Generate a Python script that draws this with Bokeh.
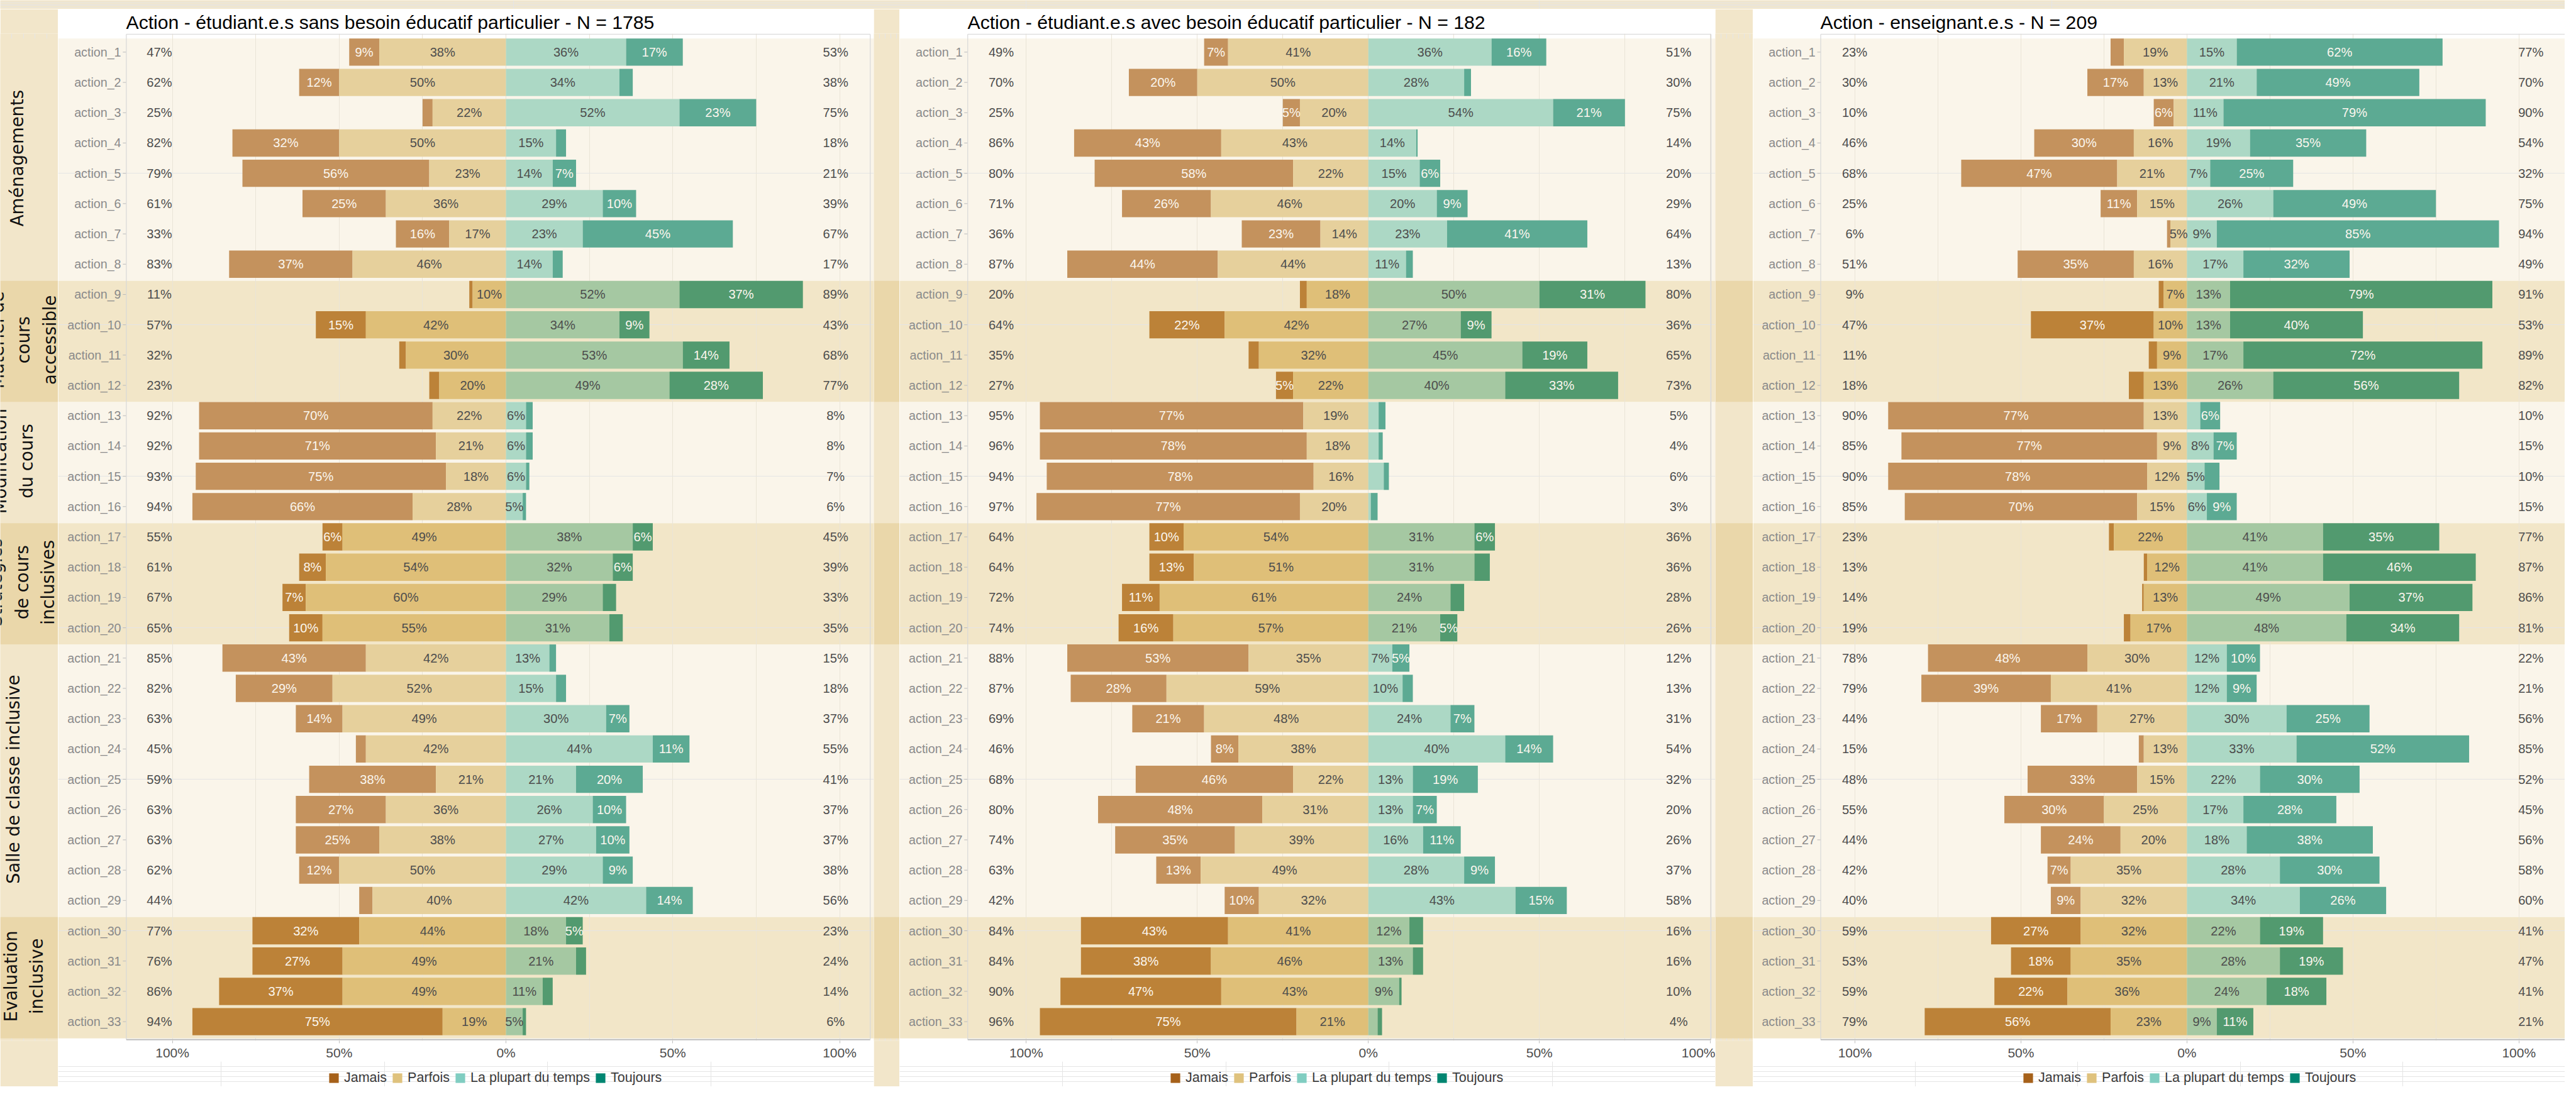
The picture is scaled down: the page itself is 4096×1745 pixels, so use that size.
import math
from bokeh.plotting import figure
from bokeh.layouts import row, column
from bokeh.models import Range1d, FixedTicker, ColumnDataSource, Legend, LegendItem
from bokeh.core.properties import value
from bokeh.embed import file_html
from bokeh.resources import INLINE

# ---------------- data ----------------
categories = [f"action_{i}" for i in range(1, 34)]
levels = ["Jamais", "Parfois", "La plupart du temps", "Toujours"]
group_labels = ["Aménagements", "Matériel de\ncours\naccessible", "Modification\ndu cours",
                "Stratégies\nde cours\ninclusives", "Salle de classe inclusive", "Evaluation\ninclusive"]
group_first = [1, 9, 13, 17, 21, 30]
group_last = [8, 12, 16, 20, 29, 33]
x_ticks = [-100, -50, 0, 50, 100]
x_tick_labels = ["100%", "50%", "0%", "50%", "100%"]
grid_ticks = [-100, -75, -50, -25, 0, 25, 50, 75, 100]
titles = ["Action - étudiant.e.s sans besoin éducatif particulier - N = 1785",
          "Action - étudiant.e.s avec besoin éducatif particulier - N = 182",
          "Action - enseignant.e.s - N = 209"]

p1_jamais = [9, 12, 3, 32, 56, 25, 16, 37, 1, 15, 2, 3, 70, 71, 75, 66, 6, 8, 7, 10, 43, 29, 14, 3, 38, 27, 25, 12, 4, 32, 27, 37, 75]
p1_parfois = [38, 50, 22, 50, 23, 36, 17, 46, 10, 42, 30, 20, 22, 21, 18, 28, 49, 54, 60, 55, 42, 52, 49, 42, 21, 36, 38, 50, 40, 44, 49, 49, 19]
p1_plupart = [36, 34, 52, 15, 14, 29, 23, 14, 52, 34, 53, 49, 6, 6, 6, 5, 38, 32, 29, 31, 13, 15, 30, 44, 21, 26, 27, 29, 42, 18, 21, 11, 5]
p1_toujours = [17, 4, 23, 3, 7, 10, 45, 3, 37, 9, 14, 28, 2, 2, 1, 1, 6, 6, 4, 4, 2, 3, 7, 11, 20, 10, 10, 9, 14, 5, 3, 3, 1]
p1_left = [47, 62, 25, 82, 79, 61, 33, 83, 11, 57, 32, 23, 92, 92, 93, 94, 55, 61, 67, 65, 85, 82, 63, 45, 59, 63, 63, 62, 44, 77, 76, 86, 94]
p1_right = [53, 38, 75, 18, 21, 39, 67, 17, 89, 43, 68, 77, 8, 8, 7, 6, 45, 39, 33, 35, 15, 18, 37, 55, 41, 37, 37, 38, 56, 23, 24, 14, 6]

p2_jamais = [7, 20, 5, 43, 58, 26, 23, 44, 2, 22, 3, 5, 77, 78, 78, 77, 10, 13, 11, 16, 53, 28, 21, 8, 46, 48, 35, 13, 10, 43, 38, 47, 75]
p2_parfois = [41, 50, 20, 43, 22, 46, 14, 44, 18, 42, 32, 22, 19, 18, 16, 20, 54, 51, 61, 57, 35, 59, 48, 38, 22, 31, 39, 49, 32, 41, 46, 43, 21]
p2_plupart = [36, 28, 54, 14, 15, 20, 23, 11, 50, 27, 45, 40, 3, 3, 4.5, 0.7, 31, 31, 24, 21, 7, 10, 24, 40, 13, 13, 16, 28, 43, 12, 13, 9, 2.7]
p2_toujours = [16, 2, 21, 0.4, 6, 9, 41, 2, 31, 9, 19, 33, 2, 1.2, 1.5, 2, 6, 4.5, 4, 5, 5, 3, 7, 14, 19, 7, 11, 9, 15, 4, 3, 0.7, 1.3]
p2_left = [49, 70, 25, 86, 80, 71, 36, 87, 20, 64, 35, 27, 95, 96, 94, 97, 64, 64, 72, 74, 88, 87, 69, 46, 68, 80, 74, 63, 42, 84, 84, 90, 96]
p2_right = [51, 30, 75, 14, 20, 29, 64, 13, 80, 36, 65, 73, 5, 4, 6, 3, 36, 36, 28, 26, 12, 13, 31, 54, 32, 20, 26, 37, 58, 16, 16, 10, 4]

p3_jamais = [4, 17, 6, 30, 47, 11, 1, 35, 1.5, 37, 2.5, 4.5, 77, 77, 78, 70, 1.5, 1, 0.5, 2, 48, 39, 17, 1.5, 33, 30, 24, 7, 9, 27, 18, 22, 56]
p3_parfois = [19, 13, 4, 16, 21, 15, 5, 16, 7, 10, 9, 13, 13, 9, 12, 15, 22, 12, 13, 17, 30, 41, 27, 13, 15, 25, 20, 35, 32, 32, 35, 36, 23]
p3_plupart = [15, 21, 11, 19, 7, 26, 9, 17, 13, 13, 17, 26, 4, 8, 5.3, 6, 41, 41, 49, 48, 12, 12, 30, 33, 22, 17, 18, 28, 34, 22, 28, 24, 9]
p3_toujours = [62, 49, 79, 35, 25, 49, 85, 32, 79, 40, 72, 56, 6, 7, 4.5, 9, 35, 46, 37, 34, 10, 9, 25, 52, 30, 28, 38, 30, 26, 19, 19, 18, 11]
p3_left = [23, 30, 10, 46, 68, 25, 6, 51, 9, 47, 11, 18, 90, 85, 90, 85, 23, 13, 14, 19, 78, 79, 44, 15, 48, 55, 44, 42, 40, 59, 53, 59, 79]
p3_right = [77, 70, 90, 54, 32, 75, 94, 49, 91, 53, 89, 82, 10, 15, 10, 15, 77, 87, 86, 81, 22, 21, 56, 85, 52, 45, 56, 58, 60, 41, 47, 41, 21]

# ---------------- style / layout ----------------
SX = 4078 / 4446
SY = 1728 / 1894
SF = 0.915


def X(v):
    return int(round(v * SX))


def Y(v):
    return int(round(v * SY))


def F(v):
    return value(f"{v * SF:.1f}px")


FONT = "Liberation Sans"
GFONT = "DejaVu Sans"
LEGEND_COLORS = ["#A6611A", "#DFC27D", "#80CDC1", "#018571"]
BAR_LIGHT = ["#C4925D", "#E6D09C", "#ACD8C5", "#5CAA93"]
BAR_DARK = ["#BC8238", "#DFBF78", "#A5C8A2", "#529A6F"]
TEXT_ON = ["#FBF6EE", "#4D4D4D", "#4D4D4D", "#FBF6EE"]
BAND_LIGHT, BAND_DARK = "#FAF5EA", "#F2E6C8"
STRIP_LIGHT, STRIP_DARK = "#F2E6CA", "#EAD7AA"
GROUP_LABEL_X = [29, 40, 22, 37, 22, 40]
LEGEND_HALF_W = 295   # reference px

ROW0, PITCH = 90.5, 52.83          # reference px of row 1 centre, row pitch
YR_TOP, YR_BOT = 0.39, 33.63       # y range in row units
Y_TOPLINE, Y_BOTLINE = 0.409, 33.592
REF_FT = ROW0 + (YR_TOP - 1) * PITCH
REF_FB = ROW0 + (YR_BOT - 1) * PITCH
TOP = Y(15)
H = Y(1894) - TOP
FT = Y(REF_FT) - TOP
FB = Y(REF_FB) - TOP
MAIN_H = Y(1850) - TOP
LEG_H = Y(1894) - Y(1850)

SPECS = [
    dict(white=(100, 1514), zero=876.3, ppr=5.783, plot=(218.1, 1507.7), border_right=True, lt=-103.9, rt=98.8),
    dict(white=(1559, 2973), zero=2371.5, ppr=5.931, plot=(1677.0, 2965.5), border_right=True, lt=-107.3, rt=90.7),
    dict(white=(3038, 4446), zero=3790.4, ppr=5.757, plot=(3155.3, 4446.0), border_right=False, lt=-100.1, rt=103.6),
]

rows = list(range(1, 34))
group_of = []
for r in rows:
    for gi, (a, b) in enumerate(zip(group_first, group_last)):
        if a <= r <= b:
            group_of.append(gi)
dark = [g % 2 == 1 for g in group_of]


def make_panel(k, J, P, L, T, LT, RT):
    s = SPECS[k]
    ws, we = s["white"]
    z, ppr = s["zero"], s["ppr"]
    conv = lambda ref: (ref - z) / ppr
    xs, xe = conv(ws), conv(we)
    pl, pr = conv(s["plot"][0]), conv(s["plot"][1])
    W = X(we) - X(ws)
    p = figure(width=W, height=MAIN_H, x_range=Range1d(xs, xe), y_range=Range1d(YR_BOT, YR_TOP),
               output_backend="svg", toolbar_location=None, y_axis_location=None, min_border=0,
               min_border_left=0, min_border_right=0, min_border_top=FT, min_border_bottom=MAIN_H - FB)
    p.background_fill_color = "white"
    p.border_fill_color = "white"
    p.outline_line_color = None

    # group bands
    p.quad(left=xs, right=xe, top=[f - 0.45 for f in group_first], bottom=[l + 0.55 for l in group_last],
           fill_color=[BAND_DARK if g % 2 else BAND_LIGHT for g in range(len(group_first))],
           line_color=None, level="image")

    vals = [J, P, L, T]
    lefts = [[-(j + q) for j, q in zip(J, P)], [-q for q in P], [0] * 33, list(L)]
    rights = [[-q for q in P], [0] * 33, list(L), [a + b for a, b in zip(L, T)]]
    for i in range(4):
        cols = [BAR_DARK[i] if d else BAR_LIGHT[i] for d in dark]
        src = ColumnDataSource(dict(y=rows, left=lefts[i], right=rights[i], color=cols))
        p.hbar(y="y", left="left", right="right", height=0.9, fill_color="color", line_color=None, source=src)
    for i in range(4):
        lx, ly, lt = [], [], []
        for r, a, b, v in zip(rows, lefts[i], rights[i], vals[i]):
            if v >= 5:
                lx.append((a + b) / 2)
                ly.append(r)
                lt.append(f"{round(v)}%")
        p.text(x=lx, y=ly, text=lt, text_align="center", text_baseline="middle",
               text_font=value(FONT), text_font_size=F(22), text_color=TEXT_ON[i])

    p.text(x=[s["lt"]] * 33, y=rows, text=[f"{v}%" for v in LT], text_align="center", text_baseline="middle",
           text_font=value(FONT), text_font_size=F(22), text_color="#4D4D4D")
    p.text(x=[s["rt"]] * 33, y=rows, text=[f"{v}%" for v in RT], text_align="center", text_baseline="middle",
           text_font=value(FONT), text_font_size=F(22), text_color="#4D4D4D")

    # category labels + ticks (y axis drawn inside the frame)
    p.text(x=[conv(s["plot"][0] - 9)] * 33, y=rows, text=categories, text_align="right", text_baseline="middle",
           text_font=value(FONT), text_font_size=F(21.5), text_color="#8A8A8A")
    p.segment(x0=[conv(s["plot"][0] - 6)] * 33, y0=rows, x1=[pl] * 33, y1=rows, line_color="#BBBBBB", line_width=1)

    # frame lines
    p.segment(x0=pl, y0=Y_TOPLINE, x1=pr, y1=Y_TOPLINE, line_color="#D8D8D8", line_width=1.2)
    p.segment(x0=pl, y0=Y_TOPLINE, x1=pl, y1=Y_BOTLINE, line_color="#D8D8D8", line_width=1.2)
    p.segment(x0=pl, y0=Y_BOTLINE, x1=pr, y1=Y_BOTLINE, line_color="#BDBDBD", line_width=2)
    if s["border_right"]:
        p.segment(x0=pr, y0=Y_TOPLINE, x1=pr, y1=Y_BOTLINE, line_color="#D8D8D8", line_width=1.2)

    # grid
    p.xgrid.ticker = FixedTicker(ticks=grid_ticks)
    p.xgrid.grid_line_color = "#EAE4D7"
    p.xgrid.grid_line_width = 1

    p.xaxis.ticker = FixedTicker(ticks=x_ticks)
    p.xaxis.major_label_overrides = {t: l for t, l in zip(x_ticks, x_tick_labels)}
    p.xaxis.axis_line_color = None
    p.xaxis.major_tick_line_color = "#BDBDBD"
    p.xaxis.major_tick_out = 4
    p.xaxis.major_tick_in = 0
    p.xaxis.minor_tick_line_color = None
    p.xaxis.major_label_standoff = 3
    p.xaxis.major_label_text_font = FONT
    p.xaxis.major_label_text_font_size = f"{23 * SF:.1f}px"
    p.xaxis.major_label_text_color = "#4D4D4D"

    p.title.text = titles[k]
    p.title.align = "left"
    p.title.offset = X(s["plot"][0]) - X(ws)
    p.title.text_font = FONT
    p.title.text_font_style = "normal"
    p.title.text_font_size = f"{33 * SF:.1f}px"
    p.title.text_color = "#000000"
    p.title.standoff = 3

    # legend figure (legend placed in screen units inside its frame)
    lg = figure(width=W, height=LEG_H, x_range=Range1d(0, 1), y_range=Range1d(0, 1),
                output_backend="svg", toolbar_location=None, x_axis_location=None, y_axis_location=None,
                min_border=0, min_border_left=0, min_border_right=0, min_border_top=0, min_border_bottom=0)
    lg.outline_line_color = None
    lg.background_fill_color = "white"
    lg.border_fill_color = "white"
    items = []
    for lvl, c in zip(levels, LEGEND_COLORS):
        r = lg.rect(x=[5], y=[5], width=1, height=1, fill_color=c, line_color=None)
        items.append(LegendItem(label=lvl, renderers=[r]))
    gh = Y(21)
    centre_ref = (s["plot"][0] + s["plot"][1]) / 2
    lx0 = X(centre_ref - LEGEND_HALF_W) - X(ws)
    leg = Legend(items=items, orientation="horizontal", location=(lx0, 1),
                 glyph_width=gh, glyph_height=gh, label_height=gh, label_standoff=X(8), spacing=X(8),
                 label_text_font=FONT, label_text_font_size=f"{23.5 * SF:.1f}px", label_text_color="#3A3A3A",
                 label_text_baseline="middle",
                 border_line_color=None, background_fill_alpha=0, padding=0, margin=0)
    lg.add_layout(leg, "center")
    return column(p, lg, spacing=0)


def make_strip(ws, we, labels):
    W = X(we) - X(ws)
    s = figure(width=W, height=H, x_range=Range1d(0, we - ws), y_range=Range1d(YR_BOT, YR_TOP),
               output_backend="svg", toolbar_location=None, x_axis_location=None, y_axis_location=None,
               min_border=0, min_border_left=0, min_border_right=0, min_border_top=FT, min_border_bottom=H - FB)
    s.outline_line_color = None
    s.background_fill_color = STRIP_LIGHT
    s.border_fill_color = STRIP_LIGHT
    s.quad(left=0, right=we - ws, top=[f - 0.45 for f in group_first], bottom=[l + 0.55 for l in group_last],
           fill_color=[STRIP_DARK if g % 2 else STRIP_LIGHT for g in range(len(group_first))], line_color=None)
    if labels:
        s.text(x=GROUP_LABEL_X, y=[(a + b) / 2 for a, b in zip(group_first, group_last)], text=group_labels,
               angle=math.pi / 2, text_align="center", text_baseline="middle", text_line_height=1.3,
               text_font=value(GFONT), text_font_size=F(30), text_color="#111111")
    return s


top = figure(width=X(4446), height=TOP, x_range=Range1d(0, 1), y_range=Range1d(0, 1), output_backend="svg",
             toolbar_location=None, x_axis_location=None, y_axis_location=None, min_border=0)
top.outline_line_color = None
top.background_fill_color = STRIP_LIGHT
top.border_fill_color = STRIP_LIGHT
top.rect(x=[5], y=[5], width=1, height=1)

panel1 = make_panel(0, p1_jamais, p1_parfois, p1_plupart, p1_toujours, p1_left, p1_right)
panel2 = make_panel(1, p2_jamais, p2_parfois, p2_plupart, p2_toujours, p2_left, p2_right)
panel3 = make_panel(2, p3_jamais, p3_parfois, p3_plupart, p3_toujours, p3_left, p3_right)

layout = column(top,
                row(make_strip(0, 100, True), panel1, make_strip(1514, 1559, False), panel2,
                    make_strip(2973, 3038, False), panel3, spacing=0),
                spacing=0)

open("out.html", "w").write(file_html(layout, INLINE))
